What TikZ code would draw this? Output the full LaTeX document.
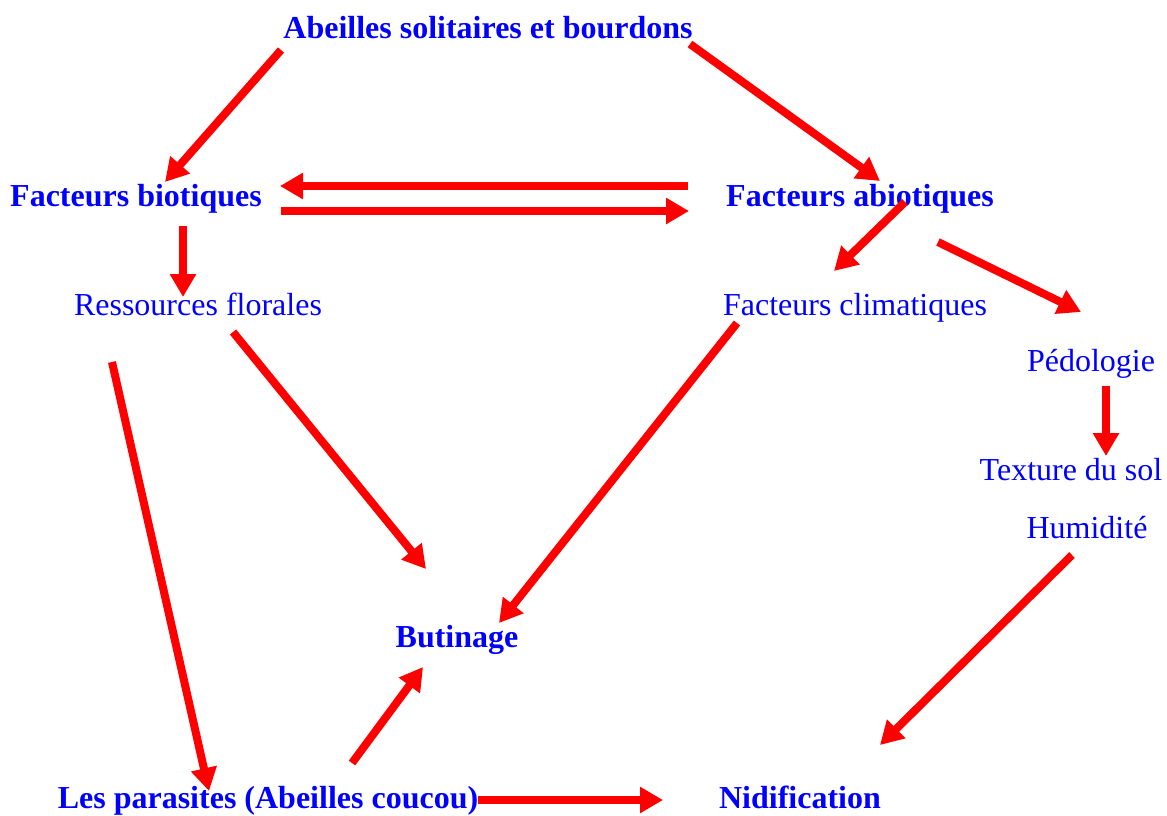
\documentclass[tikz,border=0pt]{standalone}
\usepackage{fontspec}
\setmainfont{Liberation Serif}
\usetikzlibrary{arrows.meta}
\begin{document}
\begin{tikzpicture}[x=1pt,y=-1pt,
  lab/.style={text=blue,inner sep=0pt,anchor=base,font=\fontsize{32}{34}\selectfont},
  blab/.style={lab,font=\fontsize{32}{34}\selectfont\bfseries},
  arr/.style={draw=red,line width=8pt,-{Triangle[length=23pt,width=25pt]}}]
\useasboundingbox[fill=white] (0,0) rectangle (1167,815);
\node[blab] (abeilles) at (488,38) {Abeilles solitaires et bourdons};
\node[blab] (biot) at (136,206) {Facteurs biotiques};
\node[blab] (abiot) at (860,206) {Facteurs abiotiques};
\node[lab] (ress) at (198,315) {Ressources florales};
\node[lab] (clim) at (855,315) {Facteurs climatiques};
\node[lab] (pedo) at (1091,371) {Pédologie};
\node[lab] (text) at (1071,480) {Texture du sol};
\node[lab] (humi) at (1087,538) {Humidité};
\node[blab] (buti) at (457,647) {Butinage};
\node[blab] (para) at (268,808) {Les parasites (Abeilles coucou)};
\node[blab] (nidi) at (800,808) {Nidification};
% connector end points
\coordinate (a1) at (281,50);   \coordinate (b1) at (165,182);
\coordinate (a2) at (690,44);   \coordinate (b2) at (880,181);
\coordinate (a3) at (688,186);  \coordinate (b3) at (280,186);
\coordinate (a4) at (281,211);  \coordinate (b4) at (689,211);
\coordinate (a5) at (183,226);  \coordinate (b5) at (183,297);
\coordinate (a6) at (905,202);  \coordinate (b6) at (834,271);
\coordinate (a7) at (938,242);  \coordinate (b7) at (1081,312);
\coordinate (a8) at (233,332);  \coordinate (b8) at (426,569);
\coordinate (a9) at (737,323);  \coordinate (b9) at (499,623);
\coordinate (a10) at (112,362); \coordinate (b10) at (209,791);
\coordinate (a11) at (1106,386);\coordinate (b11) at (1106,456);
\coordinate (a12) at (1072,555);\coordinate (b12) at (880,745);
\coordinate (a13) at (352,763); \coordinate (b13) at (423,667);
\coordinate (a14) at (478,800); \coordinate (b14) at (663,800);
\draw[arr] (a1) -- (b1);
\draw[arr] (a2) -- (b2);
\draw[arr] (a3) -- (b3);
\draw[arr] (a4) -- (b4);
\draw[arr] (a5) -- (b5);
\draw[arr] (a6) -- (b6);
\draw[arr] (a7) -- (b7);
\draw[arr] (a8) -- (b8);
\draw[arr] (a9) -- (b9);
\draw[arr] (a10) -- (b10);
\draw[arr] (a11) -- (b11);
\draw[arr] (a12) -- (b12);
\draw[arr] (a13) -- (b13);
\draw[arr] (a14) -- (b14);
\end{tikzpicture}
\end{document}
